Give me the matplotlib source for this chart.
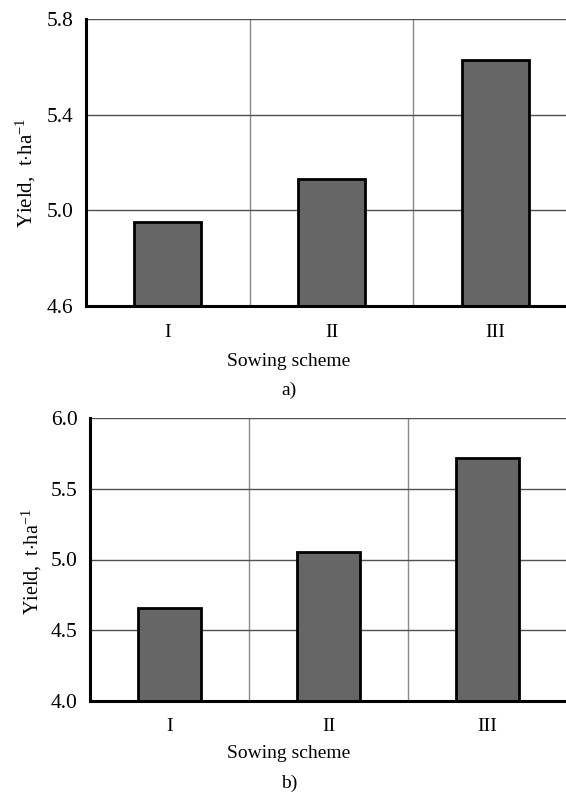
import matplotlib
matplotlib.use("Agg")
import matplotlib.pyplot as plt

# data
schemes = ["I", "II", "III"]
yield_a = [4.95, 5.13, 5.63]
yield_b = [4.66, 5.05, 5.72]
yticks_a = [4.6, 5.0, 5.4, 5.8]
yticks_b = [4.0, 4.5, 5.0, 5.5, 6.0]

plt.rcParams['font.family'] = ['Liberation Serif', 'DejaVu Serif']
plt.rcParams['mathtext.fontset'] = 'custom'
plt.rcParams['mathtext.rm'] = 'Liberation Serif'
plt.rcParams['mathtext.it'] = 'Liberation Serif:italic'

W, H = 566, 792
fig = plt.figure(figsize=(W / 100, H / 100), dpi=100)


def panel(left, right, top, bottom, values, yticks, ylab_xy, ylab_size, xpad, xlab_y, cap, cap_y, width):
    ax = fig.add_axes([left / W, 1 - bottom / H, (right - left) / W, (bottom - top) / H])
    x = list(range(1, len(schemes) + 1))
    ax.bar(x, values, width=width, color='#666666', edgecolor='black', linewidth=2, zorder=3)
    ax.set_xlim(0.5, 3.5)
    ax.set_ylim(yticks[0], yticks[-1])
    ax.set_yticks(yticks)
    ax.set_yticklabels(['%.1f' % v for v in yticks])
    ax.set_xticks(x)
    ax.set_xticklabels(schemes)
    ax.set_xticks([1.5, 2.5], minor=True)
    ax.tick_params(which='both', length=0)
    ax.tick_params(axis='y', pad=9, labelsize=15.5)
    ax.tick_params(axis='x', pad=xpad, labelsize=14)
    ax.grid(which='minor', axis='x', color='#8a8a8a', linewidth=1, zorder=1)
    ax.grid(which='major', axis='y', color='#505050', linewidth=1, zorder=1)
    ax.grid(which='major', axis='x', visible=False)
    for s in ['top', 'right']:
        ax.spines[s].set_visible(False)
    for s in ['left', 'bottom']:
        ax.spines[s].set_linewidth(2.2)
        ax.spines[s].set_zorder(4)
    fig.text(ylab_xy[0] / W, 1 - ylab_xy[1] / H, 'Yield,  t$\\cdot$ha$^{-1}$',
             rotation=90, ha='center', va='center', fontsize=ylab_size)
    fig.text(289 / W, 1 - xlab_y / H, 'Sowing scheme', ha='center', va='center', fontsize=14)
    fig.text(289 / W, 1 - cap_y / H, cap, ha='center', va='center', fontsize=14)
    return ax


panel(86, 577, 19, 306, yield_a, yticks_a, (26, 173), 15, 13, 362, 'a)', 390, 0.41)
panel(90, 567, 418, 701, yield_b, yticks_b, (32, 562), 14.5, 12, 753, 'b)', 783, 0.40)

fig.savefig('out.png', dpi=100, facecolor='white')
